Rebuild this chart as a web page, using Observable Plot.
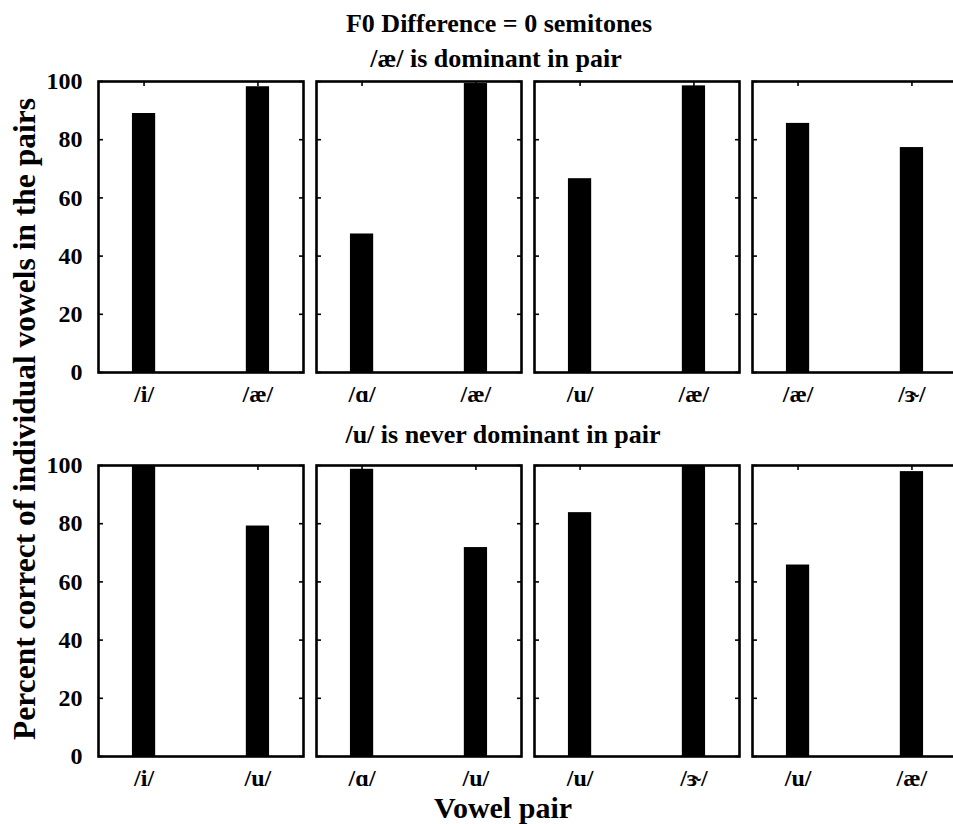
<!DOCTYPE html>
<html>
<head>
<meta charset="utf-8">
<script src="https://cdn.jsdelivr.net/npm/d3@7"></script>
<script src="https://cdn.jsdelivr.net/npm/@observablehq/plot@0.6"></script>
<style>
  html, body { margin: 0; padding: 0; background: white; overflow: hidden; }
  #chart svg { max-width: none !important; display: block; }
</style>
</head>
<body>
<div id="chart"></div>
<script>
// ---- data ----
const chartTitle = "F0 Difference = 0 semitones";
const rowTitles = ["/æ/ is dominant in pair", "/u/ is never dominant in pair"];
const yLabel = "Percent correct of individual vowels in the pairs";
const xLabel = "Vowel pair";
const yTicks = [0, 20, 40, 60, 80, 100];
const panelRow = [0, 0, 0, 0, 1, 1, 1, 1];
const panelCol = [0, 1, 2, 3, 0, 1, 2, 3];
const vowelsFirst  = ["/i/", "/ɑ/", "/u/", "/æ/", "/i/", "/ɑ/", "/u/", "/u/"];
const vowelsSecond = ["/æ/", "/æ/", "/æ/", "/ɝ/", "/u/", "/u/", "/ɝ/", "/æ/"];
const valuesFirst  = [89.0, 47.6, 66.6, 85.6, 100, 98.7, 83.8, 65.8];
const valuesSecond = [98.2, 99.3, 98.5, 77.3, 79.2, 71.8, 100, 97.9];

// ---- table built from the arrays ----
const bars = [];
panelRow.forEach((r, i) => {
  bars.push({row: r, col: panelCol[i], pos: 1, label: vowelsFirst[i], value: valuesFirst[i]});
  bars.push({row: r, col: panelCol[i], pos: 2, label: vowelsSecond[i], value: valuesSecond[i]});
});

const halfBar = 0.102;
const font = "'Liberation Serif', 'Times New Roman', serif";

const chart = Plot.plot({
  width: 957,
  height: 824,
  marginLeft: 98,
  marginRight: 0,
  marginTop: 81,
  marginBottom: 68,
  facet: {marginTop: 0, marginRight: 0, marginBottom: 0, marginLeft: 0},
  fx: {axis: null, paddingInner: 13 / 218, paddingOuter: 0, round: false},
  fy: {axis: null, paddingInner: 93 / 384, paddingOuter: 0, round: false},
  x: {domain: [0.6, 2.4], axis: null},
  y: {domain: [0, 100], axis: null},
  style: {fontFamily: font, fontWeight: "bold", background: "white", color: "black", maxWidth: "none", overflow: "visible"},
  marks: [
    Plot.rectY(bars, {
      fx: "col", fy: "row",
      x1: d => d.pos - halfBar, x2: d => d.pos + halfBar,
      y1: 0, y2: "value",
      fill: "black"
    }),
    Plot.axisY({anchor: "left", ticks: yTicks, tickSize: -5, fill: "none", label: null, facetAnchor: null, strokeWidth: 1.6}),
    Plot.axisY({anchor: "right", ticks: yTicks, tickSize: -5, fill: "none", label: null, facetAnchor: null, strokeWidth: 1.6}),
    Plot.axisX({anchor: "top", ticks: [1, 2], tickSize: -4, fill: "none", label: null, facetAnchor: null, strokeWidth: 1.6}),
    Plot.axisY({anchor: "left", ticks: yTicks, tickSize: 0, tickPadding: 16, label: null, fontSize: 24, fontWeight: "bold", fill: "black"}),
    Plot.frame({stroke: "black", strokeWidth: 2.6}),
    Plot.text(bars, {
      fx: "col", fy: "row",
      x: "pos", text: "label",
      frameAnchor: "bottom", lineAnchor: "middle", dy: 22,
      fontSize: 24, fontWeight: "bold", fill: "black"
    })
  ]
});

document.getElementById("chart").appendChild(chart);

// ---- titles and axis labels ----
const svg = d3.select(chart);
const addText = (txt, x, y, size, rotate) => {
  const t = svg.append("text")
    .attr("text-anchor", "middle")
    .attr("font-family", font)
    .attr("font-weight", "bold")
    .attr("font-size", size)
    .attr("fill", "black")
    .text(txt);
  if (rotate) t.attr("transform", `translate(${x},${y}) rotate(-90)`);
  else t.attr("x", x).attr("y", y);
  return t;
};
addText(chartTitle, 499, 32, 26);
addText(rowTitles[0], 496, 67, 26);
addText(rowTitles[1], 503, 443, 26);
addText(xLabel, 503, 818, 30);
addText(yLabel, 35, 419, 31.5, true);
</script>
</body>
</html>
